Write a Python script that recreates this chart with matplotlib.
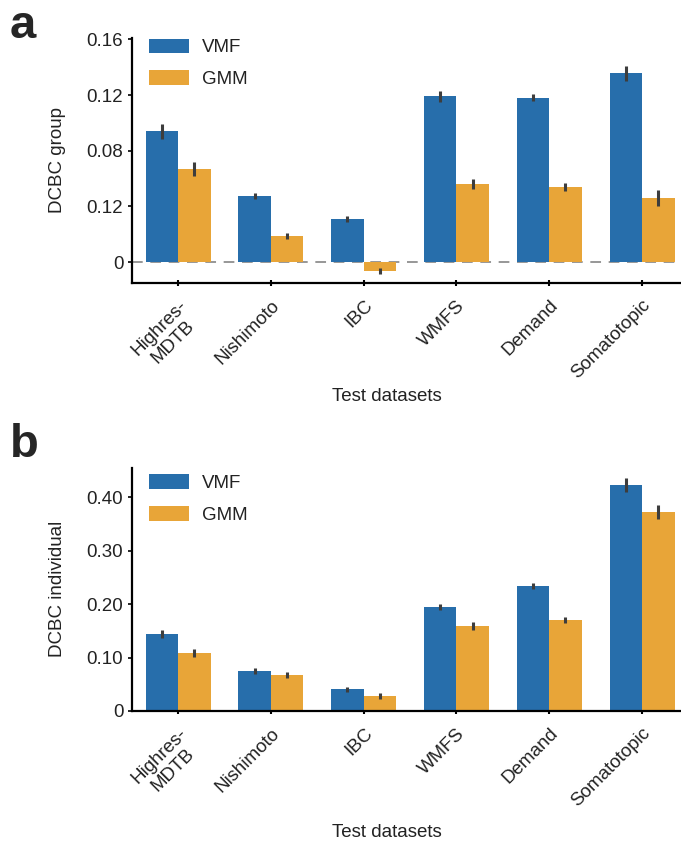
"""DCBC evaluation of VMF vs GMM parcellations across test datasets
"""
import numpy as np
import matplotlib
matplotlib.use('Agg')
import matplotlib.pyplot as plt

plt.rcParams['font.family'] = ['Liberation Sans', 'DejaVu Sans']

datasets = ['Highres-\nMDTB', 'Nishimoto', 'IBC', 'WMFS', 'Demand', 'Somatotopic']
models = ['VMF', 'GMM']

# group-level DCBC (mean, sem)
group_vmf = [0.094, 0.0476, 0.031, 0.119, 0.118, 0.1355]
group_gmm = [0.067, 0.0187, -0.0063, 0.0562, 0.054, 0.046]
group_vmf_err = [0.0054, 0.002, 0.002, 0.004, 0.0026, 0.0052]
group_gmm_err = [0.005, 0.0024, 0.002, 0.0035, 0.0028, 0.0056]

# individual-level DCBC (mean, sem)
indiv_vmf = [0.144, 0.0748, 0.041, 0.1944, 0.2336, 0.4224]
indiv_gmm = [0.108, 0.067, 0.028, 0.159, 0.170, 0.372]
indiv_vmf_err = [0.007, 0.005, 0.0047, 0.0065, 0.005, 0.0128]
indiv_gmm_err = [0.0075, 0.005, 0.005, 0.0068, 0.006, 0.0134]

group_ticks = [0, 0.04, 0.08, 0.12, 0.16]
group_ticklabels = ['0', '0.12', '0.08', '0.12', '0.16']
indiv_ticks = [0, 0.1, 0.2, 0.3, 0.4]
indiv_ticklabels = ['0', '0.10', '0.20', '0.30', '0.40']

colors = ['#276eab', '#e8a538']
err_color = '#3d3d3d'
txt_color = '#222222'
fs = 13.5

fig = plt.figure(figsize=(6.81, 8.46), dpi=100)
ax_a = fig.add_axes([0.1934, 0.6655, 0.8066, 0.2896])
ax_b = fig.add_axes([0.1934, 0.1596, 0.8066, 0.2876])


def draw_panel(ax, vmf, gmm, vmf_err, gmm_err, ylim, ticks, ticklabels, ylabel,
               xlabel_y, legend_top):
    x = np.arange(len(datasets))
    w = 0.35
    for vals, errs, off, col, name in [(vmf, vmf_err, -w / 2, colors[0], models[0]),
                                       (gmm, gmm_err, w / 2, colors[1], models[1])]:
        ax.bar(x + off, vals, width=w, color=col, label=name, zorder=2)
        ax.errorbar(x + off, vals, yerr=errs, fmt='none', ecolor=err_color,
                    elinewidth=2.2, capsize=0, zorder=3)
    ax.set_xlim(-0.5, 5.42)
    ax.set_ylim(*ylim)
    ax.set_yticks(ticks)
    ax.set_yticklabels(ticklabels, fontsize=fs, color=txt_color)
    ax.set_xticks(x)
    ax.set_xticklabels(datasets, rotation=45, ha='right', rotation_mode='anchor',
                       fontsize=fs, color=txt_color, multialignment='center')
    ax.tick_params(axis='y', direction='out', length=3, width=1.2, pad=3)
    ax.tick_params(axis='x', direction='inout', length=4, width=1.5, pad=8)
    for s in ['top', 'right']:
        ax.spines[s].set_visible(False)
    for s in ['left', 'bottom']:
        ax.spines[s].set_linewidth(1.6)
    ax.set_ylabel(ylabel, fontsize=fs, color=txt_color)
    ax.yaxis.set_label_coords(-0.12, 0.5)
    ax.set_xlabel('Test datasets', fontsize=fs, color=txt_color)
    ax.xaxis.set_label_coords(0.465, xlabel_y)
    leg = ax.legend(loc='upper left', frameon=False, fontsize=fs, handlelength=2.13,
                    handleheight=0.8, handletextpad=0.7, labelspacing=0.75,
                    bbox_to_anchor=(0.0315, legend_top), borderaxespad=0, borderpad=0)
    for t in leg.get_texts():
        t.set_color(txt_color)


draw_panel(ax_a, group_vmf, group_gmm, group_vmf_err, group_gmm_err,
           (-0.015, 0.161), group_ticks, group_ticklabels, 'DCBC group',
           -0.43, 0.997)
ax_a.axhline(0, color='#7a7a7a', lw=1.1, ls=(0, (7, 5)), zorder=1)

draw_panel(ax_b, indiv_vmf, indiv_gmm, indiv_vmf_err, indiv_gmm_err,
           (0, 0.455), indiv_ticks, indiv_ticklabels, 'DCBC individual',
           -0.465, 0.972)

fig.text(0.014, 0.955, 'a', fontsize=34, fontweight='bold', color='#262626')
fig.text(0.014, 0.46, 'b', fontsize=34, fontweight='bold', color='#262626')

fig.savefig('out.png', dpi=100)
